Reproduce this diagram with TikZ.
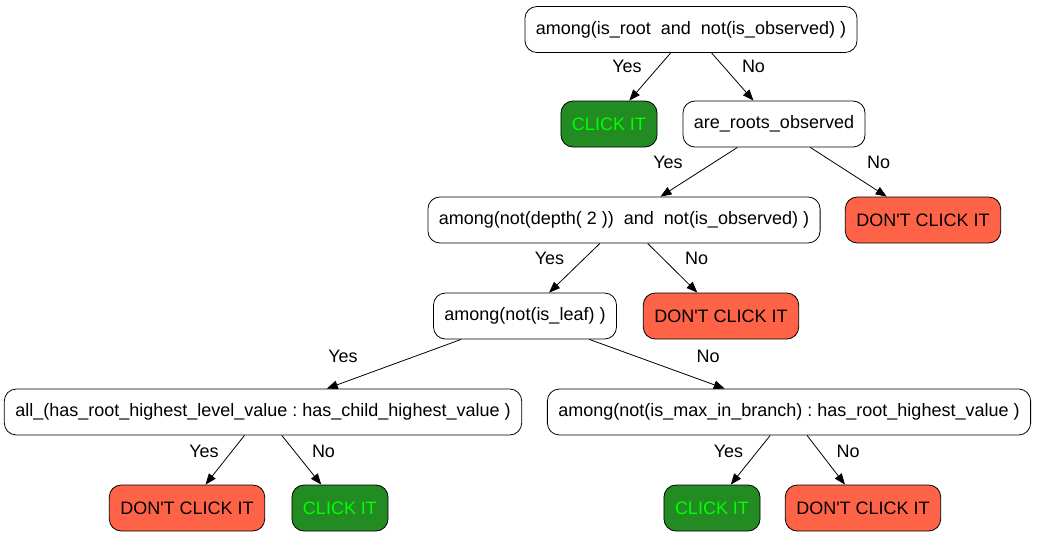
\documentclass[tikz,border=0pt]{standalone}
\usepackage{fontspec}
\setmainfont{Liberation Sans}
\usetikzlibrary{arrows.meta}
\frenchspacing

\definecolor{clickfill}{RGB}{34,139,34}
\definecolor{clicktext}{RGB}{0,255,0}
\definecolor{dontfill}{RGB}{255,99,71}
\newcommand{\dontclick}{DON\textquotesingle T CLICK IT}

\begin{document}
\begin{tikzpicture}[>={Triangle[length=11pt,width=8.5pt]}, x=1pt, y=1pt, line width=0.8pt,
  test/.style={draw, rounded corners=12pt, minimum height=46pt, inner xsep=11pt,
    font=\fontsize{18}{21}\selectfont},
  click/.style={test, fill=clickfill, text=clicktext},
  dont/.style={test, fill=dontfill},
  lbl/.style={font=\fontsize{18}{21}\selectfont, inner sep=0pt, midway}]

  \useasboundingbox (0,0) rectangle (1037,-539);

  % Tests
  \node[test] (root)  at (691,-29.5) {among(is\_root\ \ and\ \ not(is\_observed) )};
  \node[test] (roots) at (774,-124) {are\_roots\_observed};
  \node[test] (depth) at (624,-220) {among(not(depth( 2 ))\ \ and\ \ not(is\_observed) )};
  \node[test] (leaf)  at (525,-316) {among(not(is\_leaf) )};
  \node[test] (all)   at (263,-412) {all\_(has\_root\_highest\_level\_value : has\_child\_highest\_value )};
  \node[test] (max)   at (789,-412) {among(not(is\_max\_in\_branch) : has\_root\_highest\_value )};

  % Outcomes
  \node[click] (clickA) at (609,-124) {CLICK IT};
  \node[dont]  (dontA)  at (923,-220) {\dontclick};
  \node[dont]  (dontB)  at (721,-316) {\dontclick};
  \node[dont]  (dontC)  at (187,-508) {\dontclick};
  \node[click] (clickB) at (340,-508) {CLICK IT};
  \node[click] (clickC) at (712,-508) {CLICK IT};
  \node[dont]  (dontD)  at (863,-508) {\dontclick};

  % Branches
  \draw[->] (root) -- (clickA) node[lbl, xshift=-23pt, yshift=10pt] {Yes};
  \draw[->] (root) -- (roots) node[lbl, xshift=21pt, yshift=10pt] {No};
  \draw[->] (roots) -- (depth) node[lbl, xshift=-31pt, yshift=10pt] {Yes};
  \draw[->] (roots) -- (dontA) node[lbl, xshift=30pt, yshift=10pt] {No};
  \draw[->] (depth) -- (leaf) node[lbl, xshift=-25pt, yshift=10pt] {Yes};
  \draw[->] (depth) -- (dontB) node[lbl, xshift=24pt, yshift=10pt] {No};
  \draw[->] (leaf) -- (all) node[lbl, xshift=-51pt, yshift=8pt] {Yes};
  \draw[->] (leaf) -- (max) node[lbl, xshift=51pt, yshift=8pt] {No};
  \draw[->] (all) -- (dontC) node[lbl, xshift=-21pt, yshift=9pt] {Yes};
  \draw[->] (all) -- (clickB) node[lbl, xshift=22pt, yshift=9pt] {No};
  \draw[->] (max) -- (clickC) node[lbl, xshift=-22pt, yshift=9pt] {Yes};
  \draw[->] (max) -- (dontD) node[lbl, xshift=22pt, yshift=9pt] {No};

\end{tikzpicture}
\end{document}
